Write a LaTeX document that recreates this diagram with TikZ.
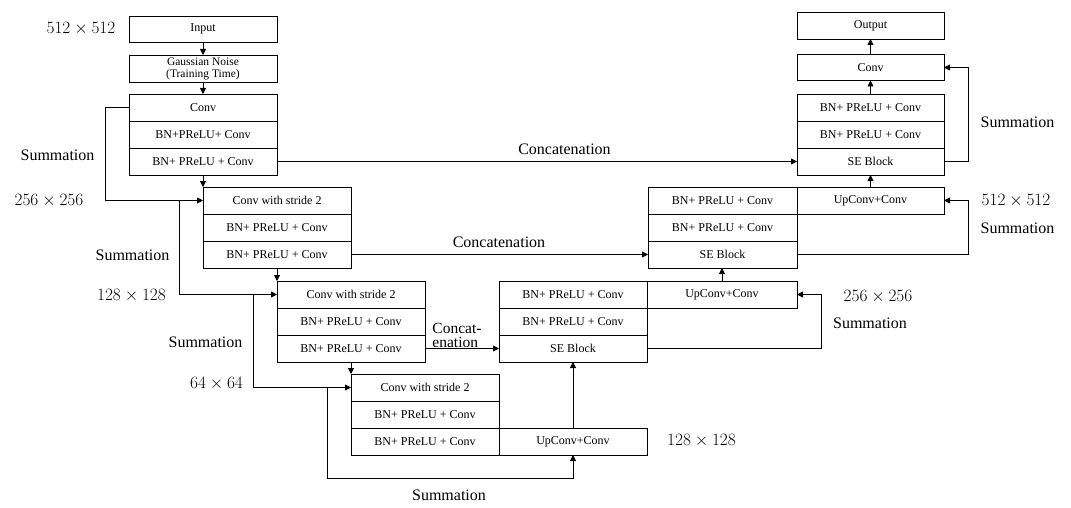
\documentclass[tikz,border=0pt]{standalone}
\usepackage{fontspec}
\setmainfont{Liberation Serif}
\usetikzlibrary{arrows.meta,calc}
\begin{document}
\begin{tikzpicture}[x=1pt,y=-1pt,
 cell/.style={draw, line width=0.8pt, minimum width=148pt, minimum height=27pt, inner sep=0pt, outer sep=0pt, font=\fontsize{12}{13}\selectfont, anchor=center},
 lbl/.style={font=\fontsize{16}{16}\selectfont, inner sep=0pt},
 conn/.style={line width=0.8pt, -{Triangle[length=6pt,width=6pt]}}]
\fill[white] (0,0) rectangle (1071,508);
\useasboundingbox (0,0) rectangle (1071,508);
% encoder
\node[cell, minimum height=26pt] (inp) at (203,29) {Input};
\node[cell, align=center, font=\fontsize{11.5}{12}\selectfont] (gau) at (203,68.5) {Gaussian Noise\\(Training Time)};
\node[cell] (B1a) at (203,107.5) {Conv};
\node[cell] (B1b) at (203,134.5) {BN+PReLU+ Conv};
\node[cell] (B1c) at (203,161.5) {BN+ PReLU + Conv};
\node[cell] (B2a) at (277,200.5) {Conv with stride 2};
\node[cell] (B2b) at (277,227.5) {BN+ PReLU + Conv};
\node[cell] (B2c) at (277,254.5) {BN+ PReLU + Conv};
\node[cell] (B3a) at (351,294.5) {Conv with stride 2};
\node[cell] (B3b) at (351,321.5) {BN+ PReLU + Conv};
\node[cell] (B3c) at (351,348.5) {BN+ PReLU + Conv};
\node[cell] (B4a) at (425,387.5) {Conv with stride 2};
\node[cell] (B4b) at (425,414.5) {BN+ PReLU + Conv};
\node[cell] (B4c) at (425,441.5) {BN+ PReLU + Conv};
\node[cell] (U4) at (573,441.5) {UpConv+Conv};
% decoder
\node[cell] (D3a) at (573,294.5) {BN+ PReLU + Conv};
\node[cell] (D3b) at (573,321.5) {BN+ PReLU + Conv};
\node[cell] (D3c) at (573,348.5) {SE Block};
\node[cell, minimum width=150pt] (U3) at (722,294.5) {UpConv+Conv};
\node[cell, minimum width=149pt] (D2a) at (722.5,200.5) {BN+ PReLU + Conv};
\node[cell, minimum width=149pt] (D2b) at (722.5,227.5) {BN+ PReLU + Conv};
\node[cell, minimum width=149pt] (D2c) at (722.5,254.5) {SE Block};
\node[cell, minimum width=147pt] (U2) at (870.5,200.5) {UpConv+Conv};
\node[cell, minimum width=147pt] (D1a) at (870.5,107.5) {BN+ PReLU + Conv};
\node[cell, minimum width=147pt] (D1b) at (870.5,134.5) {BN+ PReLU + Conv};
\node[cell, minimum width=147pt] (D1c) at (870.5,161.5) {SE Block};
\node[cell, minimum width=147pt, minimum height=26pt] (cvo) at (870.5,67.5) {Conv};
\node[cell, minimum width=147pt] (out) at (870.5,25.5) {Output};
% vertical flow
\draw[conn] (inp.south) -- (gau.north);
\draw[conn] (gau.south) -- (B1a.north);
\draw[conn] (B1c.south) -- (B1c.south |- B2a.north);
\draw[conn] (B2c.south) -- (B2c.south |- B3a.north);
\draw[conn] (B3c.south) -- (B3c.south |- B4a.north);
\draw[conn] (U4.north) -- (U4.north |- D3c.south);
\draw[conn] (U3.north) -- (U3.north |- D2c.south);
\draw[conn] (U2.north) -- (U2.north |- D1c.south);
\draw[conn] (D1a.north) -- (cvo.south);
\draw[conn] (cvo.north) -- (out.south);
% encoder summations
\coordinate (j1) at ($(B2a.west)+(-24,0)$);
\coordinate (j2) at ($(B3a.west)+(-24,0)$);
\coordinate (j3) at ($(B4a.west)+(-24,0)$);
\coordinate (j3b) at ($(j3)+(0,90.5)$);
\draw[conn] (B1a.west) -- ++(-24,0) |- (B2a.west);
\draw[conn] (j1) |- (B3a.west);
\draw[conn] (j2) |- (B4a.west);
\draw[conn] (j3) -- (j3b) -| (U4.south);
% concatenations
\draw[conn] (B1c.east) -- (D1c.west);
\draw[conn] (B2c.east) -- (D2c.west);
\draw[conn] (B3c.east) -- (D3c.west);
% decoder summations
\draw[conn] (D3c.east) -- ++(174,0) |- (U3.east);
\draw[conn] (D2c.east) -- ++(171,0) |- (U2.east);
\draw[conn] (D1c.east) -- ++(24,0) |- (cvo.east);
% labels
\node[lbl] (l1) at (81,29) {$512\times512$};
\node[lbl] (l2) at (57.5,155) {Summation};
\node[lbl] (l3) at (49,201) {$256\times256$};
\node[lbl] (l4) at (132.5,255) {Summation};
\node[lbl] (l5) at (131.5,296) {$128\times128$};
\node[lbl] (l6) at (205.5,342) {Summation};
\node[lbl] (l7) at (216.5,384) {$64\times64$};
\node[lbl] (l8) at (449,495) {Summation};
\node[lbl] (l9) at (701.5,441) {$128\times128$};
\node[lbl, align=left, font=\fontsize{15.5}{14}\selectfont] (l10) at (457,335) {Concat-\\enation};
\node[lbl] (l11) at (878,297) {$256\times256$};
\node[lbl] (l12) at (870,323) {Summation};
\node[lbl] (l13) at (499,242) {Concatenation};
\node[lbl] (l14) at (1016,201) {$512\times512$};
\node[lbl] (l15) at (1017.5,228) {Summation};
\node[lbl] (l16) at (1017.5,122) {Summation};
\node[lbl] (l17) at (564.5,149) {Concatenation};
\end{tikzpicture}
\end{document}
